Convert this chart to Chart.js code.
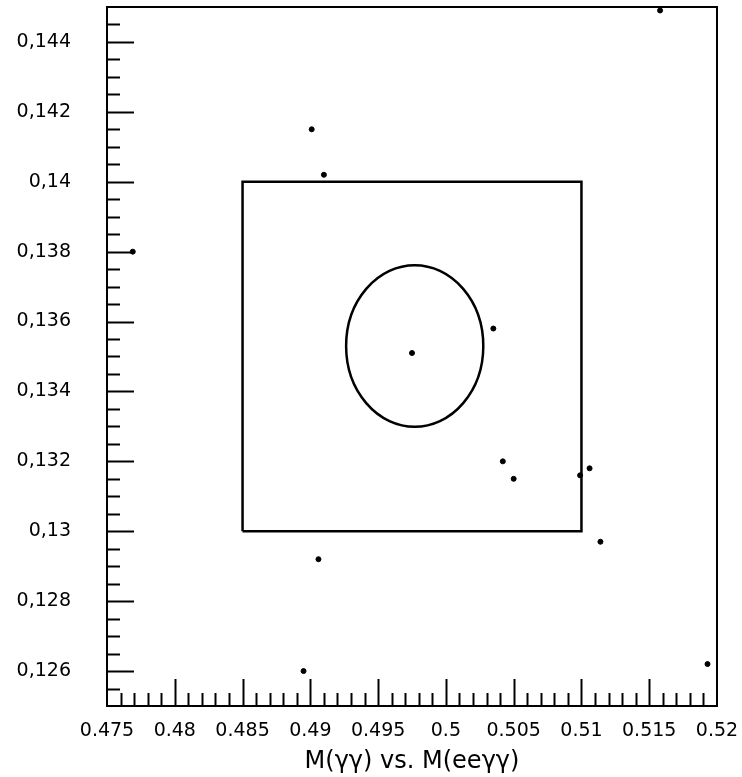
<!DOCTYPE html>
<html>
<head>
<meta charset="utf-8">
<script src="https://cdn.jsdelivr.net/npm/chart.js@4/dist/chart.umd.min.js"></script>
<style>
  html, body { margin: 0; padding: 0; background: #fff; }
</style>
</head>
<body>
<canvas id="plot" width="742" height="777"></canvas>
<script>
// events: M(ee gamma gamma) vs M(gamma gamma)
const eventX = [0.4769, 0.4901, 0.4910, 0.4975, 0.5035, 0.5042, 0.5050, 0.5099, 0.5106, 0.5114, 0.4906, 0.4895, 0.5193, 0.5158];
const eventY = [0.1380, 0.1415, 0.1402, 0.1351, 0.1358, 0.1320, 0.1315, 0.1316, 0.1318, 0.1297, 0.1292, 0.1260, 0.1262, 0.1449];

// box cut corners
const boxX = [0.485, 0.510, 0.510, 0.485, 0.485];
const boxY = [0.130, 0.130, 0.140, 0.140, 0.130];

// elliptical cut: centre and half-axes
const ellipseCenter = [0.4977, 0.1353];
const ellipseRadii = [0.00506, 0.00231];

// axis labels
const xTicks = [0.475, 0.48, 0.485, 0.49, 0.495, 0.5, 0.505, 0.51, 0.515, 0.52];
const yTicks = [0.126, 0.128, 0.13, 0.132, 0.134, 0.136, 0.138, 0.14, 0.142, 0.144];
const xTitle = "M(\u03b3\u03b3) vs. M(ee\u03b3\u03b3)";

const events = eventX.map((x, i) => ({ x: x, y: eventY[i] }));
const box = boxX.map((x, i) => ({ x: x, y: boxY[i] }));

// frame, inward ticks and ellipse
const framePlugin = {
    id: "frame",
    afterDatasetsDraw(chart) {
        const ctx = chart.ctx;
        const a = chart.chartArea;
        const sx = chart.scales.x;
        const sy = chart.scales.y;
        ctx.save();
        ctx.strokeStyle = "#000";

        // ellipse
        const cx = sx.getPixelForValue(ellipseCenter[0]);
        const cy = sy.getPixelForValue(ellipseCenter[1]);
        const rx = Math.abs(sx.getPixelForValue(ellipseCenter[0] + ellipseRadii[0]) - cx);
        const ry = Math.abs(sy.getPixelForValue(ellipseCenter[1] + ellipseRadii[1]) - cy);
        ctx.lineWidth = 2.5;
        ctx.beginPath();
        ctx.ellipse(cx, cy, rx, ry, 0, 0, Math.PI * 2);
        ctx.stroke();

        // x ticks every 0.001, long every 0.005
        ctx.lineWidth = 2;
        for (let i = 1; i < 45; i++) {
            const v = 0.475 + i * 0.001;
            const px = Math.round(sx.getPixelForValue(v)) + 0.5;
            const len = (i % 5 === 0) ? 27 : 13;
            ctx.beginPath();
            ctx.moveTo(px, a.bottom);
            ctx.lineTo(px, a.bottom - len);
            ctx.stroke();
        }
        // y ticks every 0.0005, long every 0.002
        for (let i = 1; i < 40; i++) {
            const v = 0.125 + i * 0.0005;
            const py = Math.round(sy.getPixelForValue(v)) + 0.5;
            const len = ((i - 2) % 4 === 0) ? 27 : 13;
            ctx.beginPath();
            ctx.moveTo(a.left, py);
            ctx.lineTo(a.left + len, py);
            ctx.stroke();
        }

        // frame
        ctx.lineWidth = 2;
        ctx.strokeRect(a.left, a.top, a.right - a.left, a.bottom - a.top);
        ctx.restore();
    }
};

const tickFont = { family: "DejaVu Sans", size: 19 };

new Chart(document.getElementById("plot"), {
    type: "scatter",
    data: {
        datasets: [
            {
                data: events,
                backgroundColor: "#000",
                borderColor: "#000",
                pointRadius: 2.5,
                pointHoverRadius: 2.5,
                clip: false
            },
            {
                data: box,
                showLine: true,
                borderColor: "#000",
                borderWidth: 2.5,
                pointRadius: 0,
                fill: false,
                tension: 0
            }
        ]
    },
    options: {
        responsive: false,
        animation: false,
        devicePixelRatio: 1,
        layout: { padding: { top: 7, right: 25, left: 0, bottom: 0 } },
        plugins: {
            legend: { display: false },
            title: { display: false },
            tooltip: { enabled: false }
        },
        scales: {
            x: {
                type: "linear",
                min: 0.475,
                max: 0.52,
                grid: { display: false, drawTicks: false },
                border: { display: false },
                afterBuildTicks: s => { s.ticks = xTicks.map(v => ({ value: v })); },
                afterFit: s => {
                    s.height = 71;
                    s.paddingLeft = 0; s.paddingRight = 0; s.paddingTop = 0; s.paddingBottom = 0;
                },
                ticks: {
                    color: "#000",
                    font: tickFont,
                    padding: 14,
                    maxRotation: 0,
                    autoSkip: false,
                    callback: v => String(Math.round(v * 10000) / 10000)
                },
                title: {
                    display: true,
                    text: xTitle,
                    color: "#000",
                    font: { family: "DejaVu Sans", size: 24 },
                    padding: { top: 0, bottom: 1 }
                }
            },
            y: {
                type: "linear",
                min: 0.125,
                max: 0.145,
                grid: { display: false, drawTicks: false },
                border: { display: false },
                afterBuildTicks: s => { s.ticks = yTicks.map(v => ({ value: v })); },
                afterFit: s => {
                    s.width = 107;
                    s.paddingLeft = 0; s.paddingRight = 0; s.paddingTop = 0; s.paddingBottom = 0;
                },
                ticks: {
                    color: "#000",
                    font: tickFont,
                    padding: 36,
                    autoSkip: false,
                    callback: v => String(Math.round(v * 10000) / 10000).replace(".", ",")
                }
            }
        }
    },
    plugins: [framePlugin]
});
</script>
</body>
</html>
